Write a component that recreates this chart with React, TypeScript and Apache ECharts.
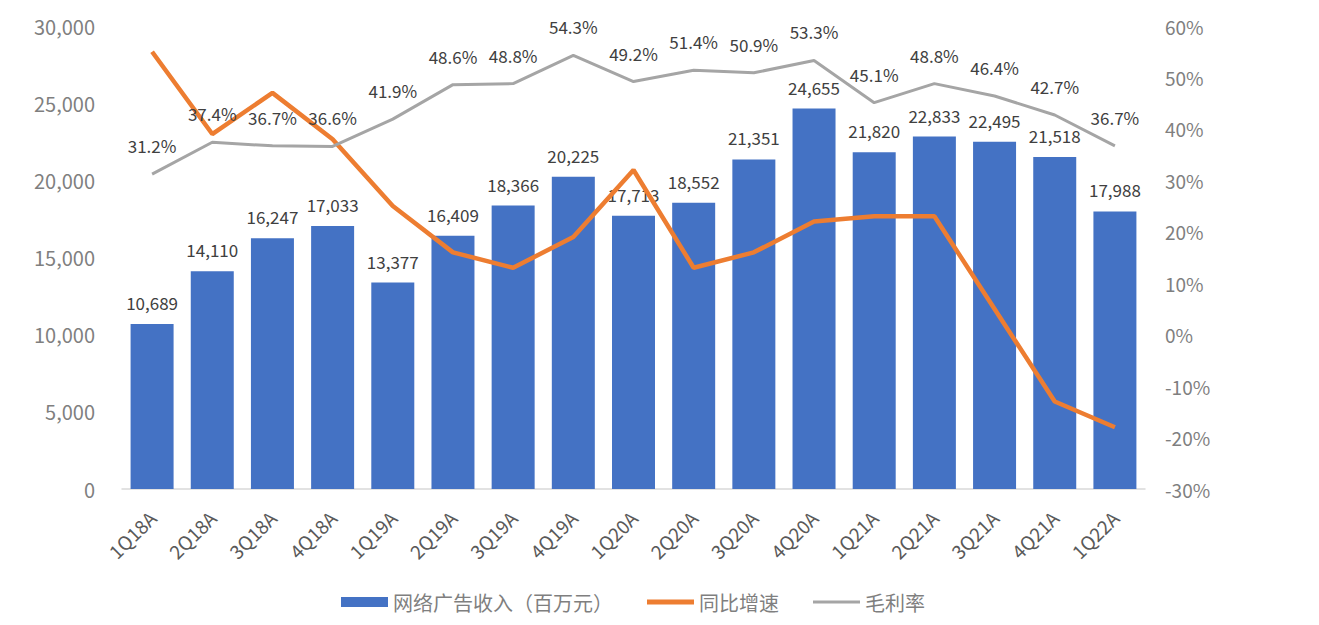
import React, { useRef, useEffect } from 'react';
import * as echarts from 'echarts';

const QUARTERS = [
  '1Q18A', '2Q18A', '3Q18A', '4Q18A', '1Q19A', '2Q19A', '3Q19A', '4Q19A', '1Q20A',
  '2Q20A', '3Q20A', '4Q20A', '1Q21A', '2Q21A', '3Q21A', '4Q21A', '1Q22A',
];
const AD_REVENUE = [
  10689, 14110, 16247, 17033, 13377, 16409, 18366, 20225, 17713,
  18552, 21351, 24655, 21820, 22833, 22495, 21518, 17988,
];
const YOY_GROWTH = [55, 39, 47, 38, 25, 16, 13, 19, 32, 13, 16, 22, 23, 23, 5, -13, -18];
const GROSS_MARGIN = [
  31.2, 37.4, 36.7, 36.6, 41.9, 48.6, 48.8, 54.3, 49.2,
  51.4, 50.9, 53.3, 45.1, 48.8, 46.4, 42.7, 36.7,
];

const FONT = '"Noto Sans CJK SC", "Noto Sans", sans-serif';

const App: React.FC = () => {
  const chartRef = useRef<HTMLDivElement>(null);

  useEffect(() => {
    if (!chartRef.current) return;
    const chart = echarts.init(chartRef.current, undefined, { renderer: 'svg' });

    const option: echarts.EChartsOption = {
      animation: false,
      backgroundColor: '#ffffff',
      textStyle: { fontFamily: FONT },
      grid: { left: 114, right: 166, top: 18, bottom: 128 },
      legend: {
        bottom: 0,
        left: 328,
        itemWidth: 47,
        itemHeight: 10,
        itemGap: 34,
        symbolKeepAspect: true,
        textStyle: { fontSize: 20, color: '#7f7f7f', fontFamily: FONT },
        data: [
          { name: '网络广告收入（百万元）', icon: 'rect' },
          { name: '同比增速', icon: 'path://M0,0H47V5H0Z' },
          { name: '毛利率', icon: 'path://M0,0H47V3H0Z' },
        ],
      },
      xAxis: {
        type: 'category',
        data: QUARTERS,
        axisLine: { lineStyle: { color: '#d9d9d9', width: 1.5 } },
        axisTick: { show: false },
        axisLabel: { rotate: 45, color: '#595959', fontSize: 19, margin: 25, interval: 0 },
      },
      yAxis: [
        {
          type: 'value',
          min: 0,
          max: 30000,
          interval: 5000,
          axisLine: { show: false },
          axisTick: { show: false },
          splitLine: { show: false },
          axisLabel: {
            color: '#7f7f7f',
            fontSize: 20,
            margin: 27,
            formatter: (v: number) => v.toLocaleString('en-US'),
          },
        },
        {
          type: 'value',
          min: -30,
          max: 60,
          interval: 10,
          axisLine: { show: false },
          axisTick: { show: false },
          splitLine: { show: false },
          axisLabel: { color: '#7f7f7f', fontSize: 19, margin: 20, formatter: '{value}%' },
        },
      ],
      series: [
        {
          name: '网络广告收入（百万元）',
          type: 'bar',
          data: AD_REVENUE,
          barWidth: 43,
          itemStyle: { color: '#4472C4' },
          label: {
            show: true,
            position: 'top',
            distance: 13,
            color: '#404040',
            fontSize: 17,
            formatter: (p: any) => Number(p.value).toLocaleString('en-US'),
          },
        },
        {
          name: '同比增速',
          type: 'line',
          yAxisIndex: 1,
          data: YOY_GROWTH,
          symbol: 'none',
          lineStyle: { color: '#ED7D31', width: 4.5 },
          itemStyle: { color: '#ED7D31' },
        },
        {
          name: '毛利率',
          type: 'line',
          yAxisIndex: 1,
          data: GROSS_MARGIN,
          symbol: 'circle',
          symbolSize: 0.1,
          showSymbol: true,
          lineStyle: { color: '#A5A5A5', width: 3 },
          itemStyle: { color: '#A5A5A5' },
          label: {
            show: true,
            position: 'top',
            distance: 20,
            color: '#404040',
            fontSize: 17,
            formatter: (p: any) => `${Number(p.value).toFixed(1)}%`,
          },
        },
      ],
    };

    chart.setOption(option);
    return () => {
      chart.dispose();
    };
  }, []);

  return <div ref={chartRef} style={{ width: 1303, height: 609 }} />;
};

export default App;
